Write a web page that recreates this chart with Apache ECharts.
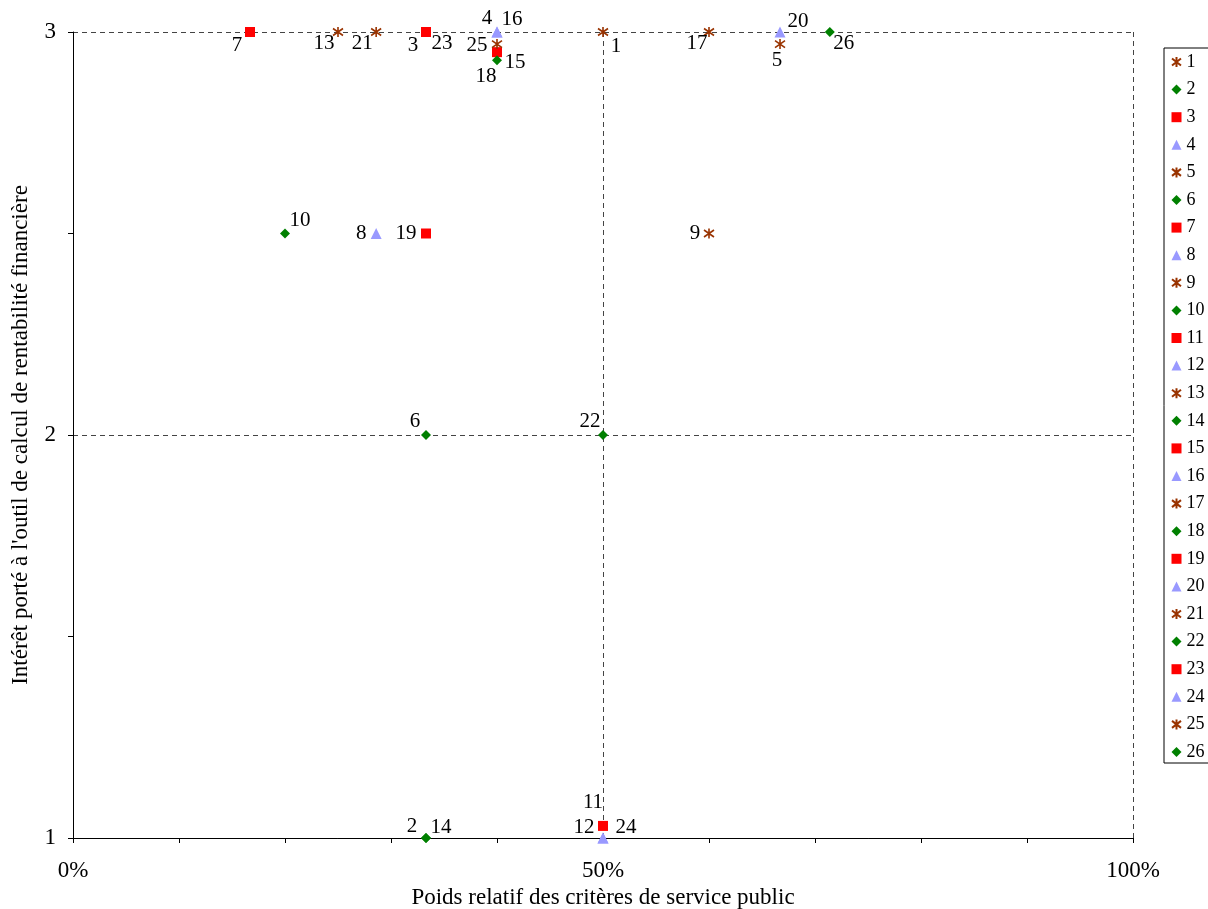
<!DOCTYPE html>
<html>
<head>
<meta charset="utf-8">
<script src="https://cdn.jsdelivr.net/npm/echarts@6/dist/echarts.min.js"></script>
<style>
  html, body { margin: 0; padding: 0; background: #fff; }
  #chart { width: 1208px; height: 909px; }
</style>
</head>
<body>
<div id="chart"></div>
<script>
// Respondent numbers (one series each)
const pointNames = ['1','2','3','4','5','6','7','8','9','10','11','12','13',
                    '14','15','16','17','18','19','20','21','22','23','24','25','26'];
// Relative weight of public-service criteria (%)
const weightValues = [50, 33.3, 33.3, 40, 66.7, 33.3, 16.7, 28.6, 60, 20, 50, 50, 25,
                      33.3, 40, 40, 60, 40, 33.3, 66.7, 28.6, 50, 33.3, 50, 40, 71.4];
// Interest in the financial profitability tool (1 to 3)
const interestValues = [3, 1, 3, 3, 2.97, 2, 3, 2.5, 2.5, 2.5, 1.03, 1, 3,
                        1, 2.95, 3, 3, 2.93, 2.5, 3, 3, 2, 3, 1, 2.97, 3];
const xTickLabels = { 0: '0%', 50: '50%', 100: '100%' };

// Marker cycle: asterisk, diamond, square, triangle
const asterisk = 'path://M0,-5L0,5M-4.5,-3.5L4.5,3.5M-4.5,3.5L4.5,-3.5';
const markerStyles = [
  { symbol: asterisk, size: 10, color: '#993300', stroke: true },
  { symbol: 'diamond', size: 10, color: '#008000' },
  { symbol: 'rect', size: 10, color: '#FF0000' },
  { symbol: 'triangle', size: 11, color: '#9999FF' }
];

// Label placement around each marker (dx, dy in pixels)
const labelOffsets = {
  '1': [13, 14], '2': [-14, -12], '3': [-13, 13], '4': [-10, -14], '5': [-3, 16],
  '6': [-11, -14], '7': [-13, 13], '8': [-15, 0], '9': [-14, 0], '10': [15, -13],
  '11': [-10, -23], '12': [-19, -11], '13': [-14, 11], '14': [15, -11], '15': [18, 10],
  '16': [15, -13], '17': [-12, 11], '18': [-11, 16], '19': [-20, 0], '20': [18, -11],
  '21': [-14, 11], '22': [-13, -14], '23': [16, 11], '24': [23, -11], '25': [-20, 1],
  '26': [14, 11]
};

const serif = '"Liberation Serif", "DejaVu Serif", serif';

const series = pointNames.map((name, i) => {
  const m = markerStyles[i % 4];
  return {
    name: name,
    type: 'scatter',
    symbol: m.symbol,
    symbolSize: m.size,
    itemStyle: m.stroke
      ? { color: m.color, borderColor: m.color, borderWidth: 1.6, opacity: 1 }
      : { color: m.color, opacity: 1 },
    label: {
      show: true,
      position: 'inside',
      offset: labelOffsets[name],
      formatter: name,
      color: '#000',
      textBorderWidth: 0,
      fontFamily: serif,
      fontSize: 21,
      align: 'center',
      verticalAlign: 'middle'
    },
    emphasis: { disabled: true },
    data: [[weightValues[i], interestValues[i]]]
  };
});

const chart = echarts.init(document.getElementById('chart'), null, { renderer: 'canvas' });
chart.setOption({
  animation: false,
  backgroundColor: '#fff',
  grid: { left: 73, right: 75, top: 32, bottom: 71, outerBoundsMode: 'none', containLabel: false },
  legend: {
    orient: 'vertical',
    left: 1164,
    top: 48,
    padding: [5, 30, 2, 7],
    itemGap: 9.6,
    itemWidth: 10,
    itemHeight: 10,
    borderColor: '#000',
    borderWidth: 1,
    textStyle: { fontFamily: serif, fontSize: 18, color: '#000', lineHeight: 18 },
    data: pointNames.map((n, i) => ({ name: n, icon: markerStyles[i % 4].symbol }))
  },
  xAxis: {
    type: 'value',
    min: 0, max: 100, interval: 50,
    name: 'Poids relatif des critères de service public',
    nameLocation: 'middle',
    nameGap: 45,
    nameTextStyle: { fontFamily: serif, fontSize: 23, color: '#000' },
    axisLine: { show: true, lineStyle: { color: '#000', width: 1 } },
    axisTick: { show: true, length: 5, lineStyle: { color: '#000' } },
    minorTick: { show: true, splitNumber: 5, length: 5, lineStyle: { color: '#000' } },
    axisLabel: {
      formatter: v => xTickLabels[v] || '',
      fontFamily: serif, fontSize: 23, color: '#000', margin: 21
    },
    splitLine: { show: true, lineStyle: { color: '#444', type: [5, 4], width: 1 } }
  },
  yAxis: {
    type: 'value',
    min: 1, max: 3, interval: 1,
    name: "Intérêt porté à l'outil de calcul de rentabilité financière",
    nameLocation: 'middle',
    nameGap: 41,
    nameTextStyle: { fontFamily: serif, fontSize: 23, color: '#000' },
    axisLine: { show: true, lineStyle: { color: '#000', width: 1 } },
    axisTick: { show: true, length: 5, lineStyle: { color: '#000' } },
    minorTick: { show: true, splitNumber: 2, length: 5, lineStyle: { color: '#000' } },
    axisLabel: { fontFamily: serif, fontSize: 23, color: '#000', margin: 17 },
    splitLine: { show: true, lineStyle: { color: '#444', type: [5, 4], width: 1 } }
  },
  series: series
});
</script>
</body>
</html>
